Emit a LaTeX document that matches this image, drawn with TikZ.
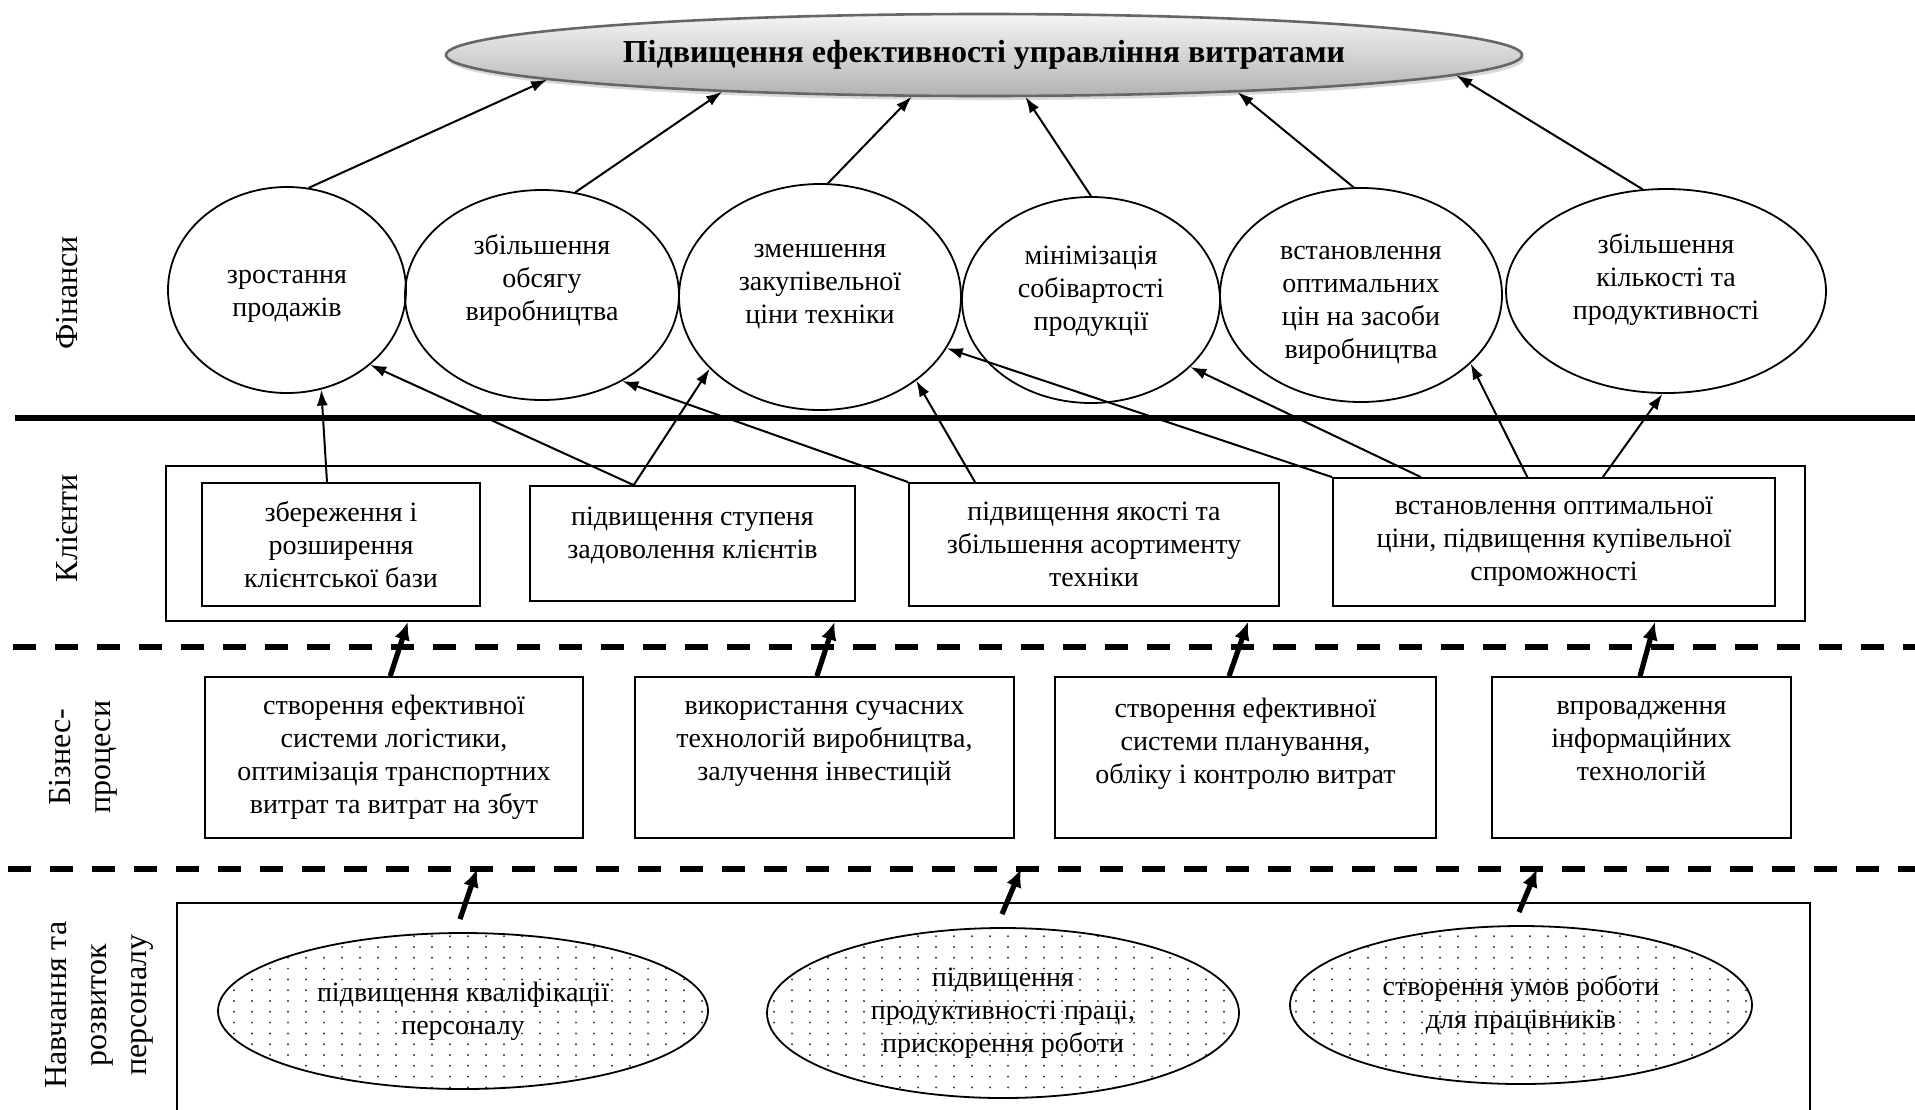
\documentclass[tikz,border=0pt]{standalone}
\usepackage{fontspec}
\setmainfont{Liberation Serif}
\usetikzlibrary{positioning, calc, arrows.meta, shapes.geometric, shadows, patterns}

\pgfdeclarepatternformonly{spots}{\pgfqpoint{-1pt}{-1pt}}{\pgfqpoint{1pt}{1pt}}{\pgfqpoint{9pt}{5.4pt}}%
  {\pgfpathcircle{\pgfpointorigin}{0.55pt}\pgfusepath{fill}}

\newcommand\raised[2]{\raisebox{#1}[\height][\depth]{\begin{tabular}{@{}c@{}}#2\end{tabular}}}

\begin{document}
\begin{tikzpicture}[x=0.5pt, y=-0.5pt,
    box/.style={draw, line width=0.9pt, rectangle, inner sep=0pt, align=center, font=\fontsize{14}{16.5}\selectfont},
    goal/.style={draw, line width=0.9pt, ellipse, inner sep=0pt, align=center, font=\fontsize{14}{16.5}\selectfont},
    skill/.style={goal, pattern=spots, pattern color=black!80},
    side/.style={rotate=90, align=center, font=\fontsize{16}{20}\selectfont},
    link/.style={line width=1pt, -{Latex[length=8pt, width=5.5pt]}},
    push/.style={line width=2.6pt, -{Latex[length=9pt, width=8pt]}},
    sep/.style={line width=3pt, dash pattern=on 11.5pt off 9.5pt}
  ]
  \useasboundingbox (0,0) rectangle (1915,1109);

  \node[ellipse, draw=black!60, line width=1.3pt, top color=gray!8, bottom color=gray!60,
    drop shadow={shadow xshift=1pt, shadow yshift=-2pt, fill=black!30},
    minimum width=538pt, minimum height=41pt, inner sep=0pt,
    font=\fontsize{16}{19}\selectfont\bfseries] (target) at (984,55)
    {Підвищення ефективності управління витратами};

  \node[side] (fin) at (67,293) {Фінанси};
  \node[side] (cli) at (67,528) {Клієнти};
  \node[side] (biz) at (83,757) {Бізнес-\\процеси};
  \node[side] (edu) at (99,1005) {Навчання та\\розвиток\\персоналу};

  \node[goal, minimum width=119pt, minimum height=103pt] (f1) at (287,290) {\raised{-1.5pt}{зростання\\продажів}};
  \node[goal, minimum width=137pt, minimum height=105pt] (f2) at (542,295) {\raised{7pt}{збільшення\\обсягу\\виробництва}};
  \node[goal, minimum width=141pt, minimum height=113pt] (f3) at (820,297) {\raised{6.5pt}{зменшення\\закупівельної\\ціни техніки}};
  \node[goal, minimum width=129pt, minimum height=103pt] (f4) at (1091,300) {\raised{4.5pt}{мінімізація\\собівартості\\продукції}};
  \node[goal, minimum width=141pt, minimum height=107pt] (f5) at (1361,295) {\raised{-3.5pt}{встановлення\\оптимальних\\цін на засоби\\виробництва}};
  \node[goal, minimum width=160pt, minimum height=102pt] (f6) at (1666,291) {\raised{5.5pt}{збільшення\\кількості та\\продуктивності}};

  \draw[link] (f1.78) -- ($(target.center)+(144:540 and 42)$);
  \draw[link] (f2.72) -- ($(target.center)+(119:540 and 42)$);
  \draw[link] (f3.86) -- ($(target.center)+(97.7:540 and 42)$);
  \draw[link] (f4.90) -- ($(target.center)+(85.6:540 and 42)$);
  \draw[link] (f5.94) -- ($(target.center)+(62:540 and 42)$);
  \draw[link] (f6.103) -- ($(target.center)+(29:540 and 42)$);

  \draw[line width=3pt] (15,418) -- (1915,418);

  \node[draw, line width=0.9pt, minimum width=819.5pt, minimum height=77.5pt, inner sep=0pt] (clients) at (985.5,543.5) {};
  \node[box, minimum width=139pt, minimum height=61.5pt] (c1) at (341,544.5) {збереження і\\розширення\\клієнтської бази};
  \node[box, minimum width=162.5pt, minimum height=57.5pt] (c2) at (692.5,543.5) {\raised{4pt}{підвищення ступеня\\задоволення клієнтів}};
  \node[box, minimum width=185pt, minimum height=61.5pt] (c3) at (1094,544.5) {підвищення якості та\\збільшення асортименту\\техніки};
  \node[box, minimum width=221pt, minimum height=64pt] (c4) at (1554,542) {встановлення оптимальної\\ціни, підвищення купівельної\\спроможності};

  \draw[link] ($(c1.north west)!0.45!(c1.north east)$) -- (f1.-71);
  \draw[link] ($(c2.north west)!0.32!(c2.north east)$) -- (f1.-42);
  \draw[link] ($(c2.north west)!0.32!(c2.north east)$) -- (f3.-147);
  \draw[link] (c3.north west) -- (f2.-47);
  \draw[link] ($(c3.north west)!0.18!(c3.north east)$) -- (f3.-41);
  \draw[link] (c4.north west) -- (f3.-22);
  \draw[link] ($(c4.north west)!0.2!(c4.north east)$) -- (f4.-34);
  \draw[link] ($(c4.north west)!0.44!(c4.north east)$) -- (f5.-32);
  \draw[link] ($(c4.north west)!0.61!(c4.north east)$) -- (f6.-92);

  \draw[sep] (13,647) -- (1915,647);

  \node[box, minimum width=189pt, minimum height=80.5pt] (b1) at (394,757.5) {створення ефективної\\системи логістики,\\оптимізація транспортних\\витрат та витрат на збут};
  \node[box, minimum width=189.5pt, minimum height=80.5pt] (b2) at (824.5,757.5) {використання сучасних\\технологій виробництва,\\залучення інвестицій\\~};
  \node[box, minimum width=190.5pt, minimum height=80.5pt] (b3) at (1245.5,757.5) {створення ефективної\\системи планування,\\обліку і контролю витрат\\~};
  \node[box, minimum width=149.5pt, minimum height=80.5pt] (b4) at (1641.5,757.5) {впровадження\\інформаційних\\технологій\\~};

  \draw[push] ($(b1.north west)!0.49!(b1.north east)$) -- ($(clients.south west)!0.148!(clients.south east)$);
  \draw[push] ($(b2.north west)!0.48!(b2.north east)$) -- ($(clients.south west)!0.408!(clients.south east)$);
  \draw[push] ($(b3.north west)!0.457!(b3.north east)$) -- ($(clients.south west)!0.66!(clients.south east)$);
  \draw[push] ($(b4.north west)!0.495!(b4.north east)$) -- ($(clients.south west)!0.908!(clients.south east)$);

  \draw[sep] (8,869) -- (1915,869);
  \coordinate (k1) at (477,869);
  \coordinate (k2) at (1021,869);
  \coordinate (k3) at (1537,869);

  \draw[line width=0.8pt] (177,1115) -- (177,903) -- (1810,903) -- (1810,1115);

  \node[skill, minimum width=245pt, minimum height=78pt] (e1) at (463,1011) {підвищення кваліфікації\\персоналу};
  \node[skill, minimum width=236pt, minimum height=85pt] (e2) at (1003,1013) {підвищення\\продуктивності праці,\\прискорення роботи};
  \node[skill, minimum width=231pt, minimum height=79pt] (e3) at (1521,1005) {створення умов роботи\\для працівників};

  \draw[push] ($(e1.north)+(-3,-13)$) -- (k1);
  \draw[push] ($(e2.north)+(-1,-13)$) -- (k2);
  \draw[push] ($(e3.north)+(-2,-13)$) -- (k3);
\end{tikzpicture}
\end{document}
